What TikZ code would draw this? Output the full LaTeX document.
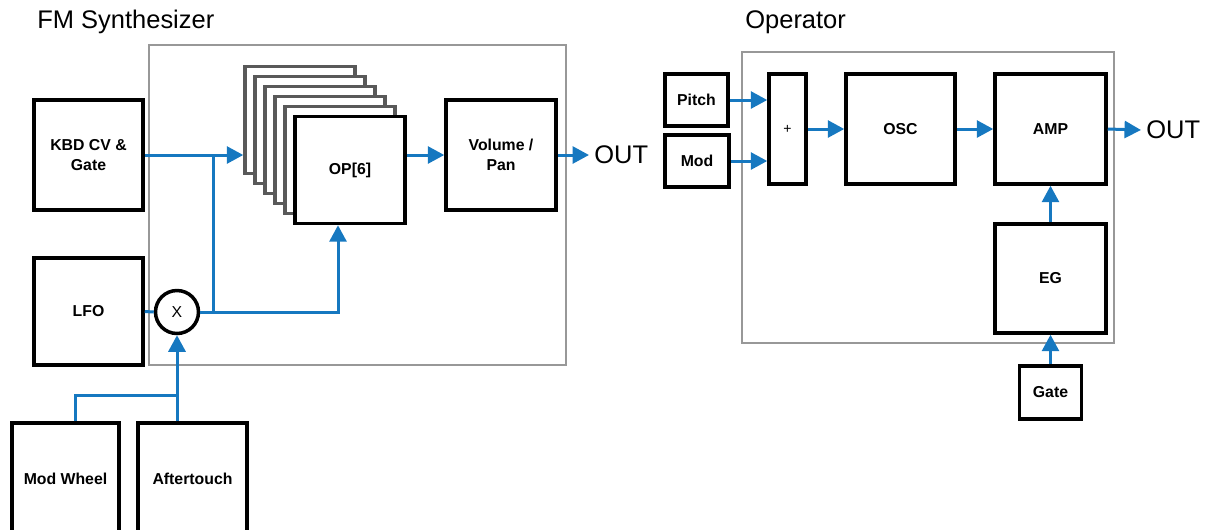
\documentclass[tikz,border=0pt]{standalone}
\usepackage{fontspec}
\setmainfont{Liberation Sans}
\usepackage{xcolor}
\usepackage{tikz}
\usetikzlibrary{positioning, arrows.meta, calc}

\definecolor{sigblue}{RGB}{22,120,192}
\definecolor{framegray}{RGB}{152,152,152}

\begin{document}
\begin{tikzpicture}[x=0.02cm, y=-0.02cm,
        blk/.style={draw, rectangle, line width=0.07cm, fill=white, align=center, inner sep=0pt, font=\fontsize{9}{11}\selectfont\bfseries},
        frame/.style={draw=framegray, line width=0.055cm},
        title/.style={anchor=base west, inner sep=0pt, font=\fontsize{14.5}{17}\selectfont},
        outlabel/.style={anchor=west, inner sep=0.1cm, font=\fontsize{14.5}{17}\selectfont},
        wire/.style={draw=sigblue, line width=0.06cm},
        arrow/.style={wire, -{Triangle[length=0.33cm, width=0.34cm]}}
    ]
    \useasboundingbox (0,0) rectangle (1207,529);
    \clip (0,0) rectangle (1207,529);

    % --- Frames and titles ---
    \draw[frame] (149,45) rectangle (566,365);
    \draw[frame] (742,52) rectangle (1114,343);
    \node[title] (fmtitle) at (37,28) {FM Synthesizer};
    \node[title] (optitle) at (745,28) {Operator};

    % --- FM Synthesizer: inputs ---
    \node[blk, minimum width=2.18cm, minimum height=2.2cm] (kbd) at (88.5,155) {KBD CV \&\\Gate};
    \node[blk, minimum width=2.18cm, minimum height=2.14cm] (lfo) at (88.5,311.5) {LFO};
    \node[blk, minimum width=2.14cm, minimum height=2.22cm] (modw) at (65.5,478.5) {Mod Wheel};
    \node[blk, minimum width=2.18cm, minimum height=2.22cm] (aft) at (192.5,478.5) {Aftertouch};
    \node[draw, circle, line width=0.07cm, fill=white, minimum size=0.86cm, inner sep=0pt, font=\fontsize{9}{11}\selectfont] (mult) at (177,312) {X};

    % --- Operator stack ---
    \foreach \k in {5,...,1}
        \node[blk, draw=black!65, minimum width=2.2cm, minimum height=2.14cm] (opb\k) at ({350-10*\k},{170-10*\k}) {};
    \node[blk, minimum width=2.2cm, minimum height=2.14cm] (op) at (350,170) {OP[6]};

    % --- Output ---
    \node[blk, minimum width=2.2cm, minimum height=2.2cm] (vol) at (501,155) {Volume /\\Pan};
    \node[outlabel] (out1) at (589,155) {OUT};

    % --- Arrows ---
    \draw[arrow] (kbd.east) -- (kbd.east -| opb5.west);
    \coordinate (split) at (213,312);
    \draw[wire] (split) -- (split |- kbd.east);
    \draw[wire] (lfo.east) -- (mult.west);
    \draw[arrow] (mult.east) -| ([xshift=-0.24cm]op.south);
    \draw[arrow] (op.east |- vol.west) -- (vol.west);
    \draw[arrow] (vol.east) -- (out1.west);
    \coordinate (mwtap) at (177,395);
    \draw[wire] ([xshift=0.21cm]modw.north) |- (mwtap);
    \draw[arrow] (mult |- aft.north) -- (mult.south);

    % --- Operator detail ---
    \node[blk, minimum width=1.26cm, minimum height=1.04cm] (pitch) at (696.5,100) {Pitch};
    \node[blk, minimum width=1.28cm, minimum height=1.04cm] (mod) at (697,161) {Mod};
    \node[blk, minimum width=0.74cm, minimum height=2.2cm, font=\fontsize{8}{10}\selectfont] (plus) at (787.5,129) {+};
    \node[blk, minimum width=2.18cm, minimum height=2.2cm] (osc) at (900.5,129) {OSC};
    \node[blk, minimum width=2.22cm, minimum height=2.2cm] (amp) at (1050.5,129) {AMP};
    \node[blk, minimum width=2.22cm, minimum height=2.18cm] (eg) at (1050.5,278.5) {EG};
    \node[blk, minimum width=1.24cm, minimum height=1.06cm] (gate) at (1050.5,392.5) {Gate};
    \node[outlabel] (out2) at (1141,130) {OUT};

    \draw[arrow] (pitch.east) -- (pitch.east -| plus.west);
    \draw[arrow] (mod.east) -- (mod.east -| plus.west);
    \draw[arrow] (plus) -- (osc);
    \draw[arrow] (osc) -- (amp);
    \draw[arrow] (amp.east) -- (out2.west);
    \draw[arrow] (eg) -- (amp);
    \draw[arrow] (gate) -- (eg);

\end{tikzpicture}
\end{document}
